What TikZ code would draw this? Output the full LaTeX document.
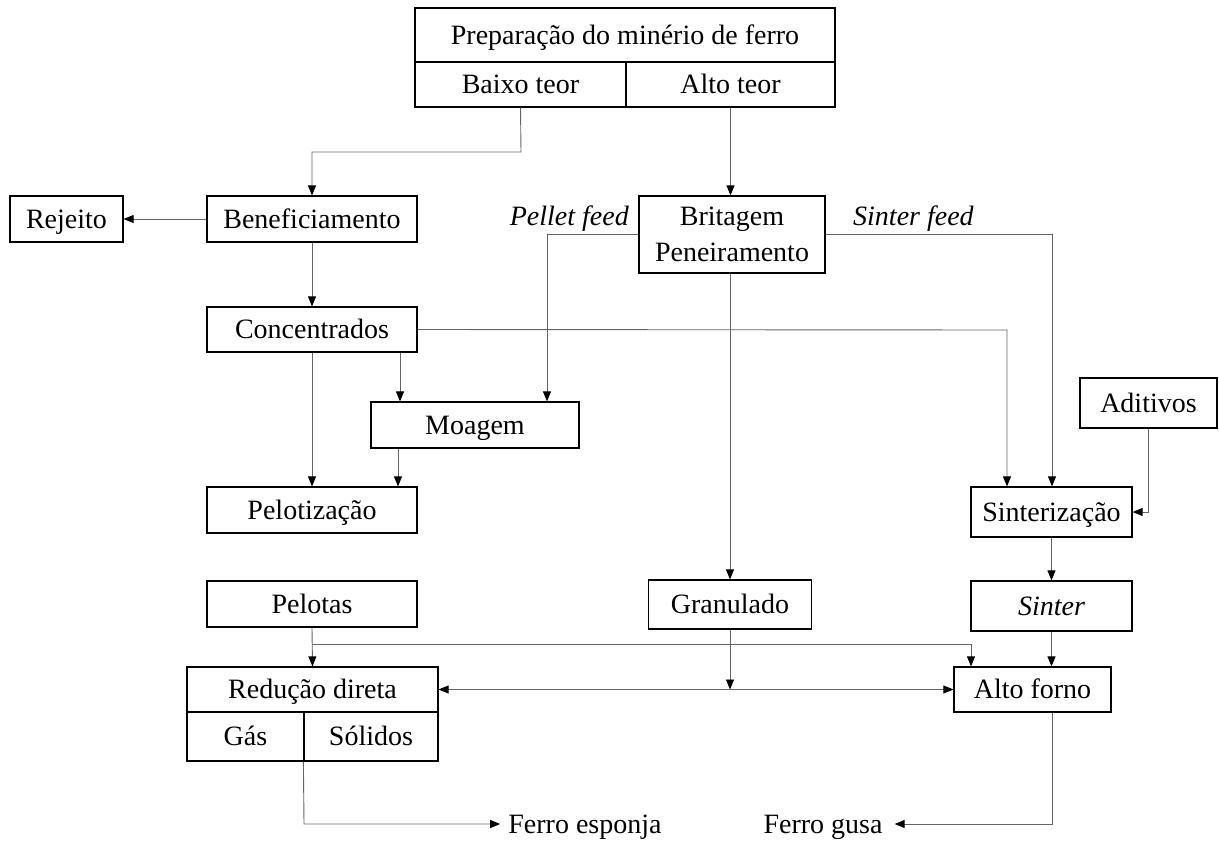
\documentclass[tikz,border=0pt]{standalone}
\usepackage{fontspec}
\setmainfont{Liberation Serif}
\usetikzlibrary{arrows.meta}
\begin{document}
\begin{tikzpicture}[x=1pt,y=-1pt,
  box/.style={draw=black,line width=1.2pt,inner sep=0pt,text height=20pt,text depth=2pt,font=\fontsize{28}{32}\selectfont},
  lbl/.style={inner sep=0pt,text height=20pt,text depth=2pt,font=\fontsize{28}{32}\selectfont},
  conn/.style={draw=black!60,line width=0.9pt,-{Triangle[length=10pt,width=8pt,color=black]}},
  line/.style={draw=black!60,line width=0.9pt}]
\useasboundingbox (0,0) rectangle (1219,841);
% nodes
\node[box,minimum width=420pt,minimum height=54pt] (prep) at (625,35) {Preparação do minério de ferro};
\node[box,minimum width=211pt,minimum height=45pt] (baixo) at (520.5,84.5) {Baixo teor};
\node[box,minimum width=209pt,minimum height=45pt] (alto) at (730.5,84.5) {Alto teor};
\node[box,minimum width=210pt,minimum height=46pt] (benef) at (312,219) {Beneficiamento};
\node[box,minimum width=113pt,minimum height=46pt] (rej) at (66.5,219) {Rejeito};
\node[box,minimum width=210pt,minimum height=45pt] (conc) at (312,329.5) {Concentrados};
\node[box,minimum width=208pt,minimum height=46pt] (moag) at (475,425) {Moagem};
\node[box,minimum width=210pt,minimum height=46pt] (pelz) at (312,510) {Pelotização};
\node[box,minimum width=210pt,minimum height=46pt] (pelo) at (312,604) {Pelotas};
\node[box,minimum width=186pt,minimum height=77pt,align=center,text height=,text depth=] (brit) at (732,234.5) {Britagem\\[4pt]Peneiramento};
\node[box,minimum width=163pt,minimum height=49pt] (gran) at (730,604.5) {Granulado};
\node[box,minimum width=137pt,minimum height=50pt] (adit) at (1148.5,403) {Aditivos};
\node[box,minimum width=161pt,minimum height=50pt] (sinz) at (1051.5,512) {Sinterização};
\node[box,minimum width=161pt,minimum height=50pt] (sint) at (1051.5,606) {\itshape Sinter};
\node[box,minimum width=157pt,minimum height=45pt] (afor) at (1032.5,689.5) {Alto forno};
\node[box,minimum width=251pt,minimum height=45pt] (redu) at (312.5,689.5) {Redução direta};
\node[box,minimum width=117pt,minimum height=49pt] (gas) at (245.5,736.5) {Gás};
\node[box,minimum width=134pt,minimum height=49pt] (soli) at (371,736.5) {Sólidos};
\node[lbl] (fesp) at (585,824) {Ferro esponja};
\node[lbl] (fgus) at (823,824) {Ferro gusa};
\node[lbl,anchor=east,font=\fontsize{28}{32}\selectfont\itshape] (pfeed) at (629,216) {Pellet feed};
\node[lbl,anchor=west,font=\fontsize{28}{32}\selectfont\itshape] (sfeed) at (853,216) {Sinter feed};
% coordinates
\coordinate (c1) at (521,152);
\coordinate (c2) at (312,152);
\coordinate (c3) at (1007,330);
\coordinate (c4) at (547,234);
\coordinate (c5) at (1052,234);
\coordinate (c6) at (1148,512);
\coordinate (c7) at (312,644);
\coordinate (c8) at (971,644);
\coordinate (c9) at (730,689.5);
\coordinate (c10) at (304,824);
\coordinate (c11) at (1052,824);
% connectors
\draw[conn] (baixo.south) -- (c1) -- (c2) -- (benef.north);
\draw[conn] (alto.south) -- (alto.south |- brit.north);
\draw[conn] (benef.west) -- (rej.east);
\draw[conn] (benef.south) -- (conc.north);
\draw[conn] (conc.south) -- (pelz.north);
\draw[conn] ([xshift=88pt]conc.south) -- ([xshift=88pt]conc.south |- moag.north);
\draw[conn] (conc.east) -- (c3) -- (c3 |- sinz.north);
\draw[conn] (brit.west |- c4) -- (c4) -- (c4 |- moag.north);
\draw[conn] (brit.east |- c5) -- (c5) -- (c5 |- sinz.north);
\draw[conn] (brit.south -| c9) -- (gran.north -| c9);
\draw[conn] ([xshift=-77pt]moag.south) -- ([xshift=-77pt]moag.south |- pelz.north);
\draw[conn] (adit.south -| c6) -- (c6) -- (sinz.east);
\draw[conn] (sinz.south) -- (sint.north);
\draw[conn] (sint.south) -- (sint.south |- afor.north);
\draw[conn] (pelo.south) -- (redu.north);
\draw[conn] (c7) -- (c8) -- (c8 |- afor.north);
\draw[conn] (gran.south) -- (c9);
\draw[line,{Triangle[length=10pt,width=8pt,color=black]}-{Triangle[length=10pt,width=8pt,color=black]}] (redu.east) -- (afor.west);
\draw[conn] (soli.south west) -- (c10) -- ([xshift=-8pt]fesp.west |- c10);
\draw[conn] (afor.south -| c11) -- (c11) -- ([xshift=12pt]fgus.east |- c11);
\end{tikzpicture}
\end{document}
